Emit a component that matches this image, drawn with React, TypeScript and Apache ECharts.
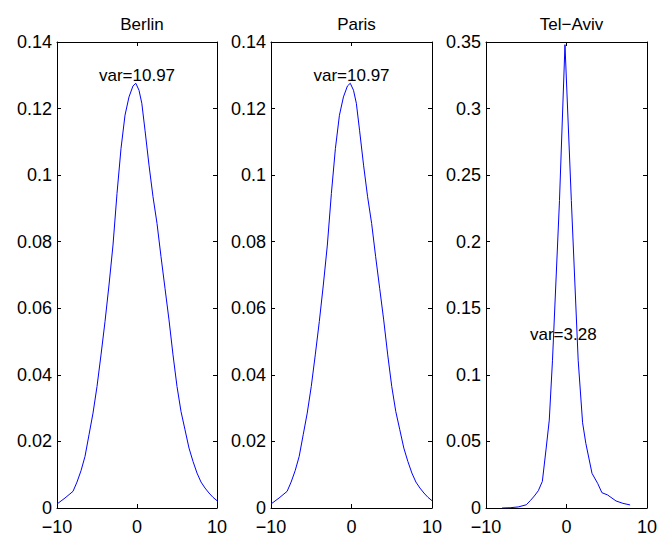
import React, { useEffect, useRef } from "react";
import * as echarts from "echarts";

const cityNames = ["Berlin", "Paris", "Tel\u2212Aviv"];
const varLabels = ["var=10.97", "var=10.97", "var=3.28"];
const varLabelX = [0, 0, -0.4];
const varLabelY = [0.13, 0.13, 0.13];

const berlinX = [-10, -9, -8, -7.5, -7, -6.5, -6, -5.5, -5, -4.5, -4, -3.5, -3, -2.5, -2, -1.5, -1, -0.5, -0.15, 0.25, 0.6, 1, 1.5, 2, 2.5, 3, 3.5, 4, 4.5, 5, 5.5, 6, 6.5, 7, 7.5, 8, 8.5, 9, 9.5, 10];
const berlinY = [0.0012, 0.003, 0.005, 0.0078, 0.0112, 0.0155, 0.022, 0.0285, 0.0365, 0.046, 0.056, 0.067, 0.079, 0.0945, 0.108, 0.118, 0.1235, 0.1268, 0.1276, 0.1255, 0.1216, 0.1135, 0.103, 0.0935, 0.0855, 0.0755, 0.066, 0.0565, 0.046, 0.0365, 0.029, 0.0235, 0.018, 0.014, 0.0105, 0.0078, 0.006, 0.0045, 0.0032, 0.0022];

const parisX = [-10, -9, -8, -7.5, -7, -6.5, -6, -5.5, -5, -4.5, -4, -3.5, -3, -2.5, -2, -1.5, -1, -0.5, -0.15, 0.25, 0.6, 1, 1.5, 2, 2.5, 3, 3.5, 4, 4.5, 5, 5.5, 6, 6.5, 7, 7.5, 8, 8.5, 9, 9.5, 10];
const parisY = [0.0012, 0.003, 0.005, 0.0078, 0.0112, 0.0155, 0.022, 0.0285, 0.0365, 0.046, 0.056, 0.067, 0.079, 0.0945, 0.108, 0.118, 0.1235, 0.1268, 0.1276, 0.1255, 0.1216, 0.1135, 0.103, 0.0935, 0.0855, 0.0755, 0.066, 0.0565, 0.046, 0.0365, 0.029, 0.0235, 0.018, 0.014, 0.0105, 0.0078, 0.006, 0.0045, 0.0032, 0.0022];

const telAvivX = [-8, -7, -6, -5, -4.5, -4, -3.5, -3, -2.55, -2.14, -1.74, -0.87, -0.19, 0.6, 1.45, 2, 2.4, 3.17, 3.87, 4.4, 5.1, 6.15, 7, 7.9];
const telAvivY = [0, 0.0002, 0.0008, 0.0024, 0.0055, 0.009, 0.013, 0.02, 0.0436, 0.066, 0.111, 0.231, 0.348, 0.231, 0.111, 0.064, 0.0486, 0.026, 0.0185, 0.0115, 0.0098, 0.0053, 0.0035, 0.0023];

const xMin = -10;
const xMax = 10;
const xStep = 10;
const yMaxes = [0.14, 0.14, 0.35];
const ySteps = [0.02, 0.02, 0.05];

const seriesX = [berlinX, parisX, telAvivX];
const seriesY = [berlinY, parisY, telAvivY];

const FONT = "'Liberation Sans', Arial, Helvetica, sans-serif";

function fmt(v: number): string {
  const r = Math.round(v * 1e6) / 1e6;
  return r < 0 ? "\u2212" + String(Math.abs(r)) : String(r);
}

export default function App() {
  const ref = useRef<HTMLDivElement>(null);
  useEffect(() => {
    if (!ref.current) return;
    const chart = echarts.init(ref.current, null, { renderer: "svg" });
    const lefts = [57, 271, 486];
    const widths = [160, 161, 161];
    const top = 42;
    const height = 466;
    const grids: any[] = [];
    const xAxes: any[] = [];
    const yAxes: any[] = [];
    const series: any[] = [];
    const titles: any[] = [];
    const lineStyle = { color: "#000", width: 1 };
    for (let i = 0; i < 3; i++) {
      grids.push({ left: lefts[i], top, width: widths[i], height, containLabel: false });
      titles.push({
        text: cityNames[i],
        left: lefts[i] + widths[i] / 2,
        top: 11,
        textAlign: "center",
        textStyle: { fontFamily: FONT, fontSize: 17, fontWeight: "normal", color: "#000" },
      });
      const baseX = {
        type: "value",
        gridIndex: i,
        min: xMin,
        max: xMax,
        interval: xStep,
        axisLine: { show: true, onZero: false, lineStyle },
        axisTick: { show: true, inside: true, length: 4, lineStyle },
        splitLine: { show: false },
      };
      xAxes.push({
        ...baseX,
        position: "bottom",
        axisLabel: { show: true, margin: 11, lineHeight: 15, fontFamily: FONT, fontSize: 18, color: "#000", formatter: fmt, showMinLabel: true, showMaxLabel: true },
      });
      xAxes.push({ ...baseX, position: "top", axisLabel: { show: false } });
      const baseY = {
        type: "value",
        gridIndex: i,
        min: 0,
        max: yMaxes[i],
        interval: ySteps[i],
        axisLine: { show: true, onZero: false, lineStyle },
        axisTick: { show: true, inside: true, length: 4, lineStyle },
        splitLine: { show: false },
      };
      yAxes.push({
        ...baseY,
        position: "left",
        axisLabel: { show: true, margin: 5, lineHeight: 15, fontFamily: FONT, fontSize: 18, color: "#000", formatter: fmt, showMinLabel: true, showMaxLabel: true },
      });
      yAxes.push({ ...baseY, position: "right", axisLabel: { show: false } });
      const xs = seriesX[i];
      const ys = seriesY[i];
      series.push({
        type: "line",
        xAxisIndex: 2 * i,
        yAxisIndex: 2 * i,
        data: xs.map((x, k) => [x, ys[k]]),
        symbol: "none",
        lineStyle: { color: "#0000ff", width: 1 },
        silent: true,
      });
      series.push({
        type: "scatter",
        xAxisIndex: 2 * i,
        yAxisIndex: 2 * i,
        data: [[varLabelX[i], varLabelY[i]]],
        symbolSize: 1,
        itemStyle: { color: "transparent", opacity: 1 },
        label: {
          show: true,
          position: "inside",
          formatter: varLabels[i],
          fontFamily: FONT,
          fontSize: 17,
          color: "#000",
          opacity: 1,
          textBorderWidth: 0,
          textBorderColor: "transparent",
        },
        silent: true,
      });
    }
    chart.setOption({
      animation: false,
      backgroundColor: "#fff",
      title: titles,
      grid: grids,
      xAxis: xAxes,
      yAxis: yAxes,
      series,
    });
    return () => chart.dispose();
  }, []);
  return <div ref={ref} style={{ width: 661, height: 540, position: "absolute", left: 0, top: 0 }} />;
}
